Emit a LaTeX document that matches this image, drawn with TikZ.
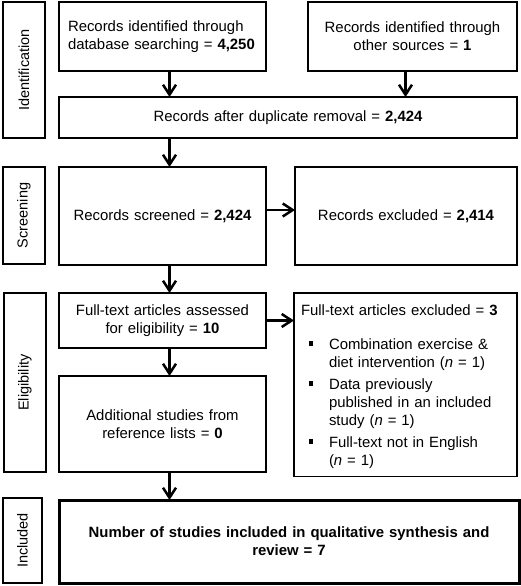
\documentclass[tikz,border=0pt]{standalone}
\usepackage{fontspec}
\setmainfont{Liberation Sans}
\usetikzlibrary{arrows.meta,positioning}
\newcommand{\sqbullet}{\rule[3.5pt]{4.5pt}{4.5pt}}

\begin{document}
\begin{tikzpicture}[
  x=1pt, y=1pt,
  every node/.style={draw, line width=1.4pt, align=center, inner sep=4pt, outer sep=0pt,
    font=\fontsize{14.9}{18}\selectfont},
  box/.style={anchor=north west, minimum width=207pt, text width=199pt},
  side/.style={anchor=north west, minimum width=222pt, text width=214pt},
  wide/.style={anchor=north west, minimum width=458pt, text width=450pt},
  phase/.style={rotate=90, minimum height=42pt, font=\fontsize{14.5}{17}\selectfont},
  arr/.style={-{Straight Barb[length=10pt,width=13pt]}, line width=2.5pt}
]
  \useasboundingbox (0,0) rectangle (520,-586);

  % phase labels
  \node[phase, minimum width=136pt] (ident) at (24,-70) {Identification};
  \node[phase, minimum width=97pt] (screen) at (24,-215.5) {Screening};
  \node[phase, minimum width=179pt] (elig) at (25,-382.5) {Eligibility};
  \node[phase, minimum width=85pt, minimum height=39pt] (incl) at (22.5,-540.5) {Included};

  % flow boxes
  \node[box, minimum height=69pt, align=left, text width=189pt, inner xsep=9pt] (db) at (59,-2) {Records identified through\\database searching = \textbf{4,250}};
  \node[box, minimum height=69pt, minimum width=209pt, right=42pt of db.north east, anchor=north west] (other) {Records identified through\\other sources = \textbf{1}};
  \node[wide, minimum height=41pt, below=26pt of db.south west, anchor=north west] (dup) {Records after duplicate removal = \textbf{2,424}};
  \node[box, minimum height=98pt, below=29pt of dup.south west, anchor=north west] (screened) {Records screened = \textbf{2,424}};
  \node[side, minimum height=98pt, right=29pt of screened.north east, anchor=north west] (excluded) {Records excluded = \textbf{2,414}};
  \node[box, minimum height=55pt, below=28pt of screened.south west, anchor=north west] (fulltext) {Full-text articles assessed\\for eligibility = \textbf{10}};
  \node[side, minimum width=223pt, text width=209pt, inner xsep=7pt, inner ysep=8.5pt, minimum height=179pt, align=left,
    right=28pt of fulltext.north east, anchor=north west] (ftexcl) {\rule{0pt}{14pt}Full-text articles excluded = \textbf{3}
    \begin{list}{\sqbullet}{\setlength{\topsep}{15.5pt}\setlength{\itemsep}{4pt}\setlength{\parsep}{0pt}%
      \setlength{\leftmargin}{28pt}\setlength{\labelwidth}{6pt}\setlength{\labelsep}{16pt}}
      \item Combination exercise \&\\diet intervention (\textit{n} = 1)
      \item Data previously\\published in an included\\study (\textit{n} = 1)
      \item Full-text not in English\\(\textit{n} = 1)
    \end{list}\vspace{-15.5pt}\kern0pt};
  \node[box, minimum height=96pt, below=28pt of fulltext.south west, anchor=north west] (additional) {Additional studies from\\reference lists = \textbf{0}};
  \node[wide, minimum width=460pt, minimum height=83pt, line width=3pt, font=\fontsize{14.9}{18}\selectfont\bfseries,
    below=28pt of additional.south west, anchor=north west] (included) {Number of studies included in qualitative synthesis and\\review = 7};

  % connectors
  \draw[arr] ([xshift=7pt]db.south) -- ([xshift=7pt]db.south |- dup.north);
  \draw[arr] ([xshift=-7pt]other.south) -- ([xshift=-7pt]other.south |- dup.north);
  \draw[arr] ([xshift=7pt]screened.north |- dup.south) -- ([xshift=7pt]screened.north);
  \draw[arr] ([yshift=6pt]screened.east) -- ([yshift=6pt]excluded.west);
  \draw[arr] ([xshift=7pt]screened.south) -- ([xshift=7pt]fulltext.north);
  \draw[arr] (fulltext) -- (fulltext -| ftexcl.west);
  \draw[arr] ([xshift=7pt]fulltext.south) -- ([xshift=7pt]additional.north);
  \draw[arr] ([xshift=7pt]additional.south) -- ([xshift=7pt]additional.south |- included.north);
\end{tikzpicture}
\end{document}
